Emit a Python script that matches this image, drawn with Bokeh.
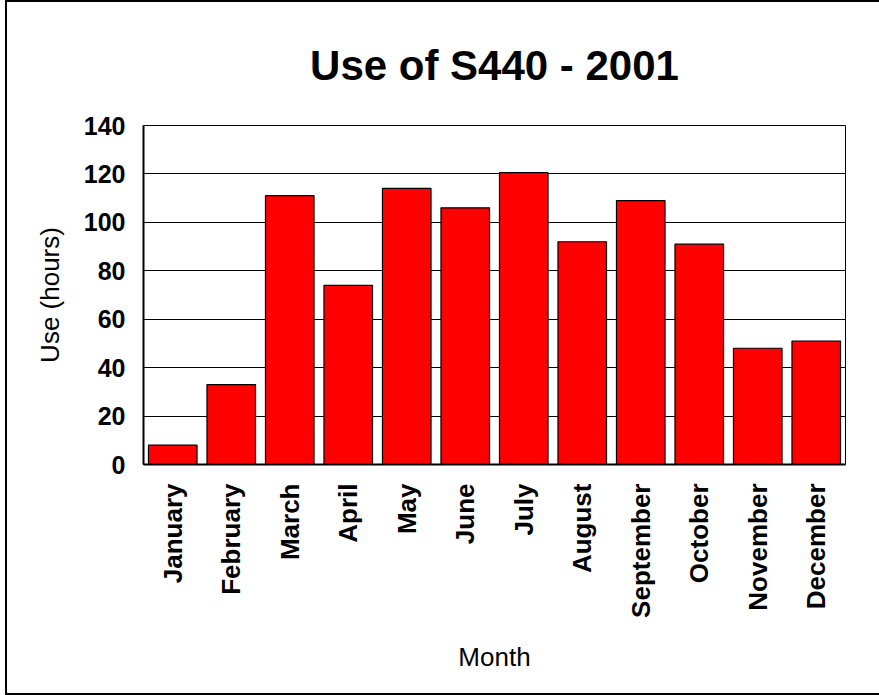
import math
from bokeh.plotting import figure
from bokeh.models import ColumnDataSource, FactorRange, Range1d, FixedTicker
from bokeh.embed import file_html
from bokeh.resources import INLINE

# Monthly usage of the S440 instrument, 2001
months = ["January", "February", "March", "April", "May", "June",
          "July", "August", "September", "October", "November", "December"]
hours = [8, 33, 111, 74, 114, 106, 120.5, 92, 109, 91, 48, 51]
y_ticks = [0, 20, 40, 60, 80, 100, 120, 140]

FONT = "Liberation Sans"

source = ColumnDataSource(data=dict(month=months, hours=hours))

p = figure(
    x_range=FactorRange(*months, range_padding=0),
    y_range=Range1d(0, 140),
    width=880, height=695,
    output_backend="svg",
    toolbar_location=None,
    min_border_left=136, min_border_right=42,
    min_border_top=122, min_border_bottom=233,
)
# page frame around the whole chart; its right side runs past the page edge
p.styles = {"box-sizing": "border-box",
            "border-top": "2px solid black", "border-left": "2px solid black",
            "border-bottom": "2px solid black", "border-right": "2px solid white",
            "margin-left": "5px"}

p.vbar(x="month", top="hours", width=0.83, source=source,
       fill_color="#ff0000", line_color="black", line_width=1.2)

# title
p.title.text = "Use of S440 - 2001"
p.title.text_font = FONT
p.title.text_font_size = "42px"
p.title.text_font_style = "bold"
p.title.text_color = "black"
p.title.align = "center"
p.title.standoff = 74

# frame
p.outline_line_color = "black"
p.outline_line_width = 1
p.background_fill_color = "white"
p.border_fill_color = "white"

# grid
p.xgrid.grid_line_color = None
p.ygrid.grid_line_color = "black"
p.ygrid.grid_line_width = 1

# y axis
p.yaxis.ticker = FixedTicker(ticks=y_ticks)
p.yaxis.axis_label = "Use (hours)"
p.yaxis.axis_label_text_font = FONT
p.yaxis.axis_label_text_font_size = "26px"
p.yaxis.axis_label_text_font_style = "normal"
p.yaxis.axis_label_text_color = "black"
p.yaxis.axis_label_standoff = 16
p.yaxis.major_label_text_font = FONT
p.yaxis.major_label_text_font_size = "25px"
p.yaxis.major_label_text_font_style = "bold"
p.yaxis.major_label_text_color = "black"
p.yaxis.major_label_standoff = 12
p.yaxis.major_tick_line_color = None
p.yaxis.minor_tick_line_color = None
p.yaxis.axis_line_width = 2
p.yaxis.axis_line_color = "black"

# x axis
p.xaxis.axis_label = "Month"
p.xaxis.axis_label_text_font = FONT
p.xaxis.axis_label_text_font_size = "26px"
p.xaxis.axis_label_text_font_style = "normal"
p.xaxis.axis_label_text_color = "black"
p.xaxis.axis_label_standoff = 21
p.xaxis.major_label_orientation = math.pi / 2
p.xaxis.major_label_text_font = FONT
p.xaxis.major_label_text_font_size = "26px"
p.xaxis.major_label_text_font_style = "bold"
p.xaxis.major_label_text_color = "black"
p.xaxis.major_label_standoff = 13
p.xaxis.major_tick_line_color = None
p.xaxis.minor_tick_line_color = None
p.xaxis.axis_line_width = 2
p.xaxis.axis_line_color = "black"

open("out.html", "w").write(file_html(p, INLINE))
